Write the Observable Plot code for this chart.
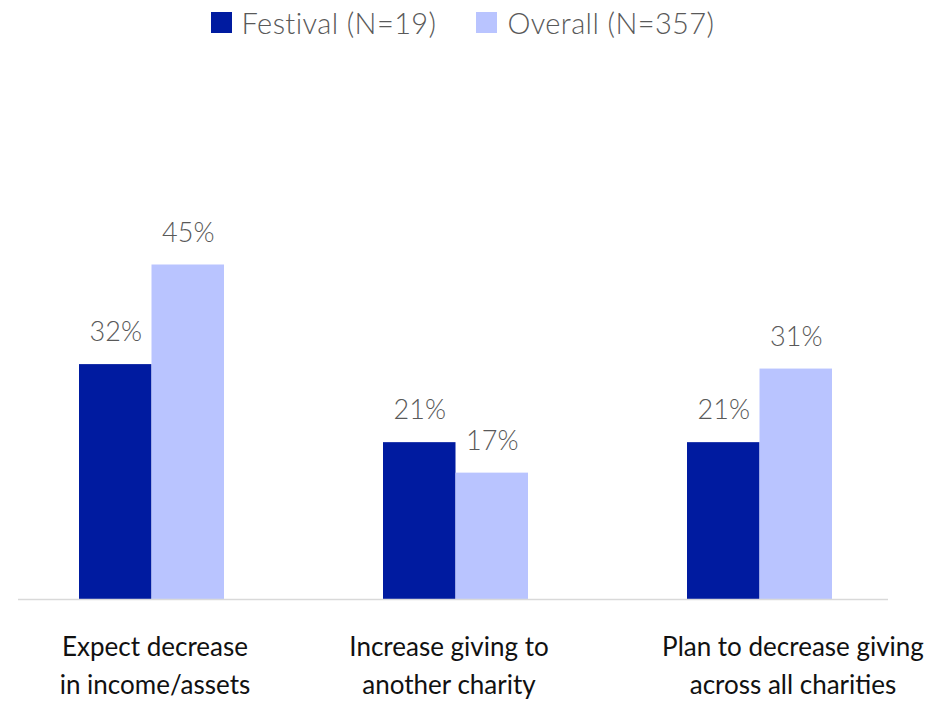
<!DOCTYPE html>
<html>
<head>
<meta charset="utf-8">
<script src="https://cdn.jsdelivr.net/npm/d3@7"></script>
<script src="https://cdn.jsdelivr.net/npm/@observablehq/plot@0.6"></script>
<style>
  html, body { margin: 0; padding: 0; background: #fff; }
  body { width: 951px; height: 701px; overflow: hidden; font-family: Lato, "Noto Sans", sans-serif; }
  #legend { height: 48px; display: flex; justify-content: center; align-items: center; box-sizing: border-box; padding-right: 26px; padding-bottom: 3px; }
  .item { display: flex; align-items: center; font-size: 29px; font-weight: 300; letter-spacing: 0.4px; color: #595959; margin: 0 20px; }
  .sw { width: 21px; height: 21px; margin-right: 10px; }
</style>
</head>
<body>
<div id="legend"></div>
<div id="chart"></div>
<script>
const categories = ["Expect decrease\nin income/assets", "Increase giving to\nanother charity", "Plan to decrease giving\nacross all charities"];
const seriesNames = ["Festival (N=19)", "Overall (N=357)"];
const festivalValues = [31.6, 21.1, 21.1];
const overallValues = [45, 17, 31];
const festivalLabels = ["32%", "21%", "21%"];
const overallLabels = ["45%", "17%", "31%"];
const colors = ["#001ba0", "#b9c4ff"];

const festival = categories.map((c, i) => ({category: c, value: festivalValues[i], label: festivalLabels[i]}));
const overall = categories.map((c, i) => ({category: c, value: overallValues[i], label: overallLabels[i]}));

const legend = document.getElementById("legend");
seriesNames.forEach((name, i) => {
  const item = document.createElement("div");
  item.className = "item";
  item.innerHTML = `<span class="sw" style="background:${colors[i]}"></span><span>${name}</span>`;
  legend.appendChild(item);
});

const half = 72.5;
// horizontal nudges of the category captions (style only)
const captionShift = [3, -7, 33];
const chart = Plot.plot({
  width: 951,
  height: 653,
  marginLeft: 0,
  marginRight: 40,
  marginTop: 105,
  marginBottom: 102,
  style: {fontFamily: "Lato, 'Noto Sans', sans-serif", background: "#fff"},
  x: {domain: categories, paddingInner: 0.524, paddingOuter: 0.258, align: 0.5, label: null, axis: null},
  y: {domain: [0, 60], axis: null},
  marks: [
    Plot.barY(festival, {x: "category", y: "value", fill: colors[0], insetRight: half}),
    Plot.barY(overall, {x: "category", y: "value", fill: colors[1], insetLeft: half}),
    Plot.ruleY([0], {stroke: "#d9d9d9", strokeWidth: 1.5, insetLeft: 18, insetRight: 23}),
    Plot.text(festival, {x: "category", y: "value", text: "label", dx: -half / 2, dy: -32, fontSize: 27, fontWeight: 300, fill: "#595959"}),
    Plot.text(overall, {x: "category", y: "value", text: "label", dx: half / 2, dy: -32, fontSize: 27, fontWeight: 300, fill: "#595959"}),
    ...categories.map((c, i) => Plot.text([c], {
      x: d => d, y: 0, text: d => d, dx: captionShift[i], dy: 30,
      lineAnchor: "top", lineHeight: 1.45, fontSize: 26, fill: "#111"
    }))
  ]
});
document.getElementById("chart").appendChild(chart);
</script>
</body>
</html>
